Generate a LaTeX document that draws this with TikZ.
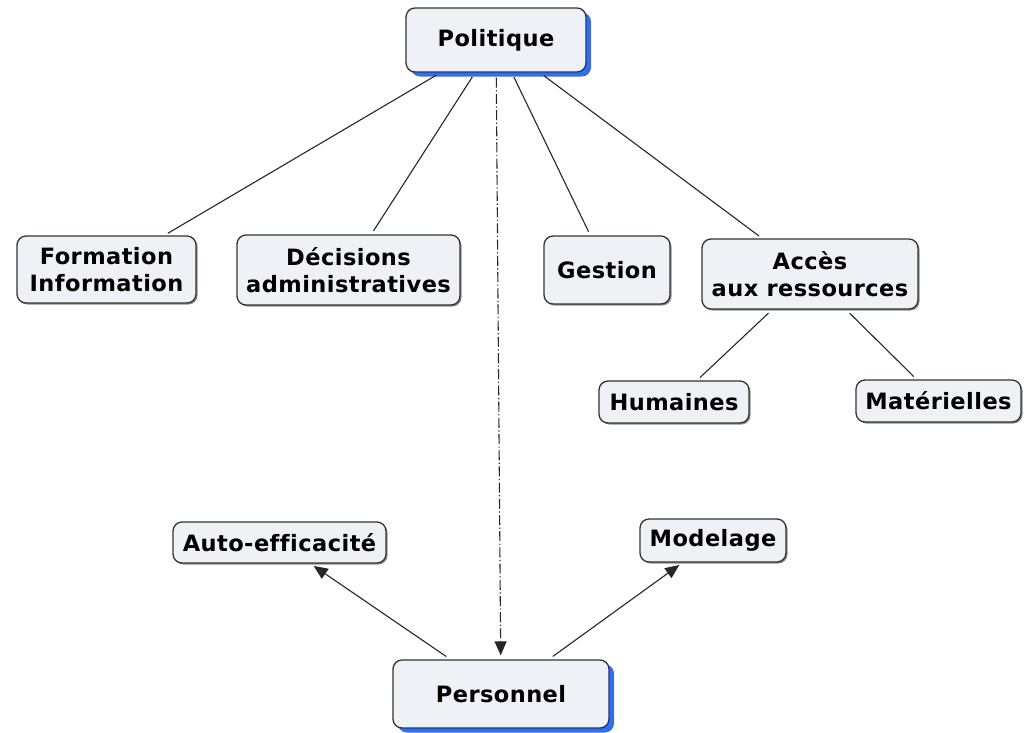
\documentclass[tikz,border=0pt]{standalone}
\usepackage{fontspec}
\setmainfont[Ligatures=NoCommon,LetterSpace=2]{DejaVu Sans}
\usetikzlibrary{arrows.meta,shadows}
\definecolor{boxfill}{HTML}{EEF1F6}
\definecolor{boxline}{HTML}{333333}
\definecolor{shblue}{HTML}{2F6FF5}
\tikzset{
  box/.style={draw=boxline, fill=boxfill, rounded corners=9pt, line width=1.3pt,
    align=center, inner sep=0pt, font=\fontsize{22.5}{27}\selectfont\bfseries,
    drop shadow={shadow xshift=1.5pt, shadow yshift=-1.5pt, fill=black!45, opacity=1}},
  bluebox/.style={box, drop shadow={shadow xshift=5pt, shadow yshift=-4.5pt, fill=shblue, opacity=1}},
  link/.style={line width=1.1pt, draw=black!85, shorten <=5pt, shorten >=4pt},
  arr/.style={link, -{Triangle[length=14pt,width=12pt]}},
}
\begin{document}
\begin{tikzpicture}[x=1pt,y=-1pt]
\useasboundingbox (0,0) rectangle (1025,732);
\node[bluebox, minimum width=180pt, minimum height=64pt] (pol) at (496,40) {Politique};
\node[box, minimum width=179pt, minimum height=67pt] (form) at (106.5,269.5) {Formation\\Information};
\node[box, minimum width=223pt, minimum height=70pt] (dec) at (348.5,270) {Décisions\\administratives};
\node[box, minimum width=126pt, minimum height=68pt] (ges) at (607,270) {Gestion};
\node[box, minimum width=216pt, minimum height=70pt] (acc) at (810,274) {Accès\\aux ressources};
\node[box, minimum width=150pt, minimum height=42pt] (hum) at (674,402) {Humaines};
\node[box, minimum width=165pt, minimum height=42pt] (mat) at (938.5,401) {Matérielles};
\node[box, minimum width=213pt, minimum height=41pt] (auto) at (279.5,542.5) {Auto-efficacité};
\node[box, minimum width=146pt, minimum height=43pt] (mod) at (713,540.5) {Modelage};
\node[bluebox, minimum width=216pt, minimum height=68pt] (pers) at (501,694) {Personnel};

\draw[link] (pol) -- (form);
\draw[link] (pol) -- (dec);
\draw[link] (pol) -- (ges);
\draw[link] (pol) -- (acc);
\draw[link] (acc) -- (hum);
\draw[link] (acc) -- (mat);
\draw[arr, dash pattern=on 10pt off 2.5pt on 1.2pt off 2.5pt] (pol) -- (pers);
\draw[arr] (pers) -- (auto);
\draw[arr] (pers) -- (mod);
\end{tikzpicture}
\end{document}
